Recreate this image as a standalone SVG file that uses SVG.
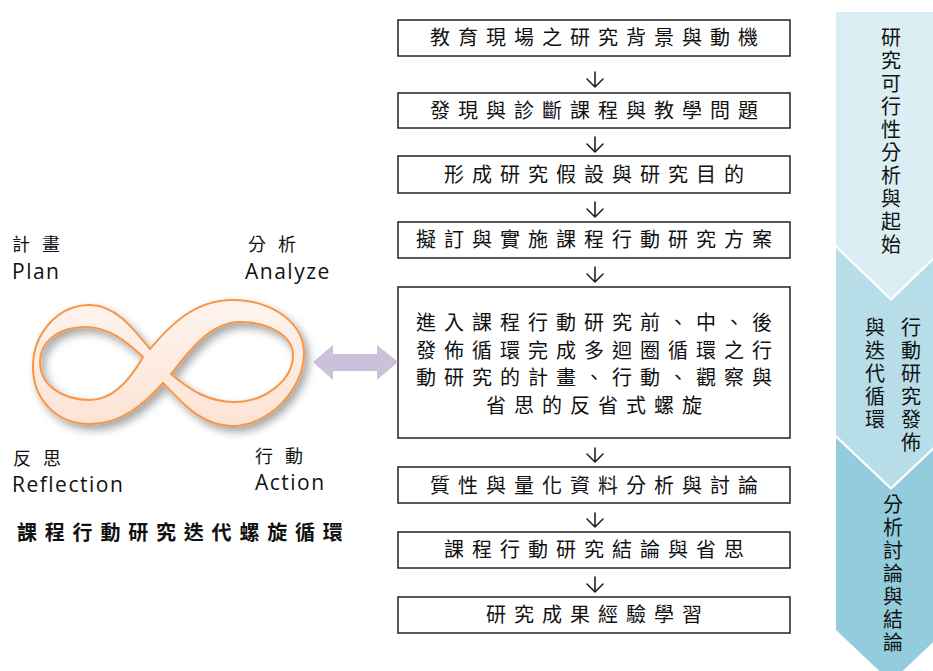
<svg xmlns="http://www.w3.org/2000/svg" width="933" height="671" viewBox="0 0 933 671">
  <style>
    .box { fill: #ffffff; stroke: #222222; stroke-width: 1.5; }
    .bt { font-family: "Noto Sans CJK TC", "Noto Sans CJK SC", sans-serif; font-size: 20px; letter-spacing: 8px; fill: #111111; text-anchor: middle; }
    .conn { fill: none; stroke: #222222; stroke-width: 1.6; stroke-linecap: round; stroke-linejoin: round; }
    .vt { font-family: "Noto Sans CJK TC", "Noto Sans CJK SC", sans-serif; font-size: 20px; letter-spacing: 3px; fill: #111111; writing-mode: vertical-rl; }
    .cjk { font-family: "Noto Sans CJK TC", "Noto Sans CJK SC", sans-serif; font-size: 18px; letter-spacing: 12px; fill: #111111; }
    .lat { font-family: "Open Sans", "Liberation Sans", sans-serif; font-size: 21px; letter-spacing: 1.5px; fill: #111111; }
    .title { font-family: "Noto Sans CJK TC", "Noto Sans CJK SC", sans-serif; font-size: 20px; font-weight: bold; letter-spacing: 7.8px; fill: #111111; }
  </style>
  <defs>
    <filter id="shadow" x="-20%" y="-30%" width="150%" height="170%">
      <feGaussianBlur in="SourceAlpha" stdDeviation="4"/>
      <feOffset dx="4" dy="5" result="b"/>
      <feFlood flood-color="#000000" flood-opacity="0.35"/>
      <feComposite in2="b" operator="in"/>
      <feMerge>
        <feMergeNode/>
        <feMergeNode in="SourceGraphic"/>
      </feMerge>
    </filter>
    <linearGradient id="peach" x1="0" y1="0" x2="0" y2="1">
      <stop offset="0" stop-color="#FEF4EE"/>
      <stop offset="1" stop-color="#FCE3D4"/>
    </linearGradient>
  </defs>

  <!-- Right column chevron bands -->
  <g id="band1">
    <polygon points="836,12 946,12 946,245 891,298 836,245" fill="#DAEEF3"/>
    <text class="vt" x="891" y="27">研究可行性分析與起始</text>
  </g>
  <g id="band2">
    <polygon points="836,248 891,301 946,248 946,435 891,487 836,435" fill="#B7DDE8"/>
    <text class="vt" x="911" y="317">行動研究發佈</text>
    <text class="vt" x="875" y="317">與迭代循環</text>
  </g>
  <g id="band3">
    <polygon points="836,438 891,490 946,438 946,630 891,682 836,630" fill="#93CDDD"/>
    <text class="vt" x="893" y="494">分析討論與結論</text>
  </g>

  <!-- Infinity cycle -->
  <g id="infinity">
    <path filter="url(#shadow)" fill="url(#peach)" stroke="#F79646" stroke-width="2" fill-rule="evenodd"
      d="M150,349 C170,325 195,300 232,300 C275,300 304,325 304,353 C304,390 268,426 232,426 C200,426 180,400 163,383 C145,403 122,424 90,424 C55,424 33,398 33,367 C33,333 58,305 90,305 C115,305 133,328 150,349 Z
         M143,357 C125,340 108,327 85,327 C58,327 40,342 40,362 C40,385 62,400 90,400 C112,400 130,380 143,357 Z
         M171,374 C188,352 210,322 240,322 C272,322 293,338 293,355 C293,380 265,402 235,402 C208,402 190,390 171,374 Z"/>
  </g>
  <g id="label-plan">
    <text class="cjk" x="12" y="251">計畫</text>
    <text class="lat" x="12" y="279">Plan</text>
  </g>
  <g id="label-analyze">
    <text class="cjk" x="248" y="251">分析</text>
    <text class="lat" x="245" y="279">Analyze</text>
  </g>
  <g id="label-reflection">
    <text class="cjk" x="13" y="465">反思</text>
    <text class="lat" x="12" y="492">Reflection</text>
  </g>
  <g id="label-action">
    <text class="cjk" x="255" y="463">行動</text>
    <text class="lat" x="255" y="490">Action</text>
  </g>
  <g id="title">
    <text class="title" x="17" y="540">課程行動研究迭代螺旋循環</text>
  </g>

  <!-- Flow boxes -->
  <g id="box1">
    <rect class="box" x="398" y="20" width="392" height="36"/>
    <text class="bt" x="598" y="45">教育現場之研究背景與動機</text>
  </g>
  <g id="box2">
    <rect class="box" x="398" y="93" width="392" height="35"/>
    <text class="bt" x="598" y="117.5">發現與診斷課程與教學問題</text>
  </g>
  <g id="box3">
    <rect class="box" x="398" y="156" width="392" height="37"/>
    <text class="bt" x="598" y="181.5">形成研究假設與研究目的</text>
  </g>
  <g id="box4">
    <rect class="box" x="398" y="222" width="392" height="36"/>
    <text class="bt" x="598" y="247">擬訂與實施課程行動研究方案</text>
  </g>
  <g id="box5">
    <rect class="box" x="398" y="287" width="392" height="151"/>
    <text class="bt" x="598" y="330">進入課程行動研究前、中、後</text>
    <text class="bt" x="598" y="357.7">發佈循環完成多迴圈循環之行</text>
    <text class="bt" x="598" y="385.4">動研究的計畫、行動、觀察與</text>
    <text class="bt" x="598" y="413">省思的反省式螺旋</text>
  </g>
  <g id="box6">
    <rect class="box" x="398" y="467" width="392" height="36"/>
    <text class="bt" x="598" y="492.5">質性與量化資料分析與討論</text>
  </g>
  <g id="box7">
    <rect class="box" x="398" y="532" width="392" height="36"/>
    <text class="bt" x="598" y="557">課程行動研究結論與省思</text>
  </g>
  <g id="box8">
    <rect class="box" x="398" y="597" width="392" height="36"/>
    <text class="bt" x="598" y="622">研究成果經驗學習</text>
  </g>

  <!-- Connectors -->
  <g id="connectors">
    <path class="conn" d="M595,72 V87 M587,79 L595,87 L603,79"/>
    <path class="conn" d="M595,137 V152 M587,144 L595,152 L603,144"/>
    <path class="conn" d="M595,202 V217 M587,209 L595,217 L603,209"/>
    <path class="conn" d="M595,267 V282 M587,274 L595,282 L603,274"/>
    <path class="conn" d="M595,448 V462 M587,454 L595,462 L603,454"/>
    <path class="conn" d="M595,513 V527 M587,519 L595,527 L603,519"/>
    <path class="conn" d="M595,577 V592 M587,584 L595,592 L603,584"/>
    <path d="M313,362 L333,345 L333,354 L377,354 L377,345 L398,362 L377,380 L377,371 L333,371 L333,380 Z" fill="#CCC1DA"/>
  </g>
</svg>
